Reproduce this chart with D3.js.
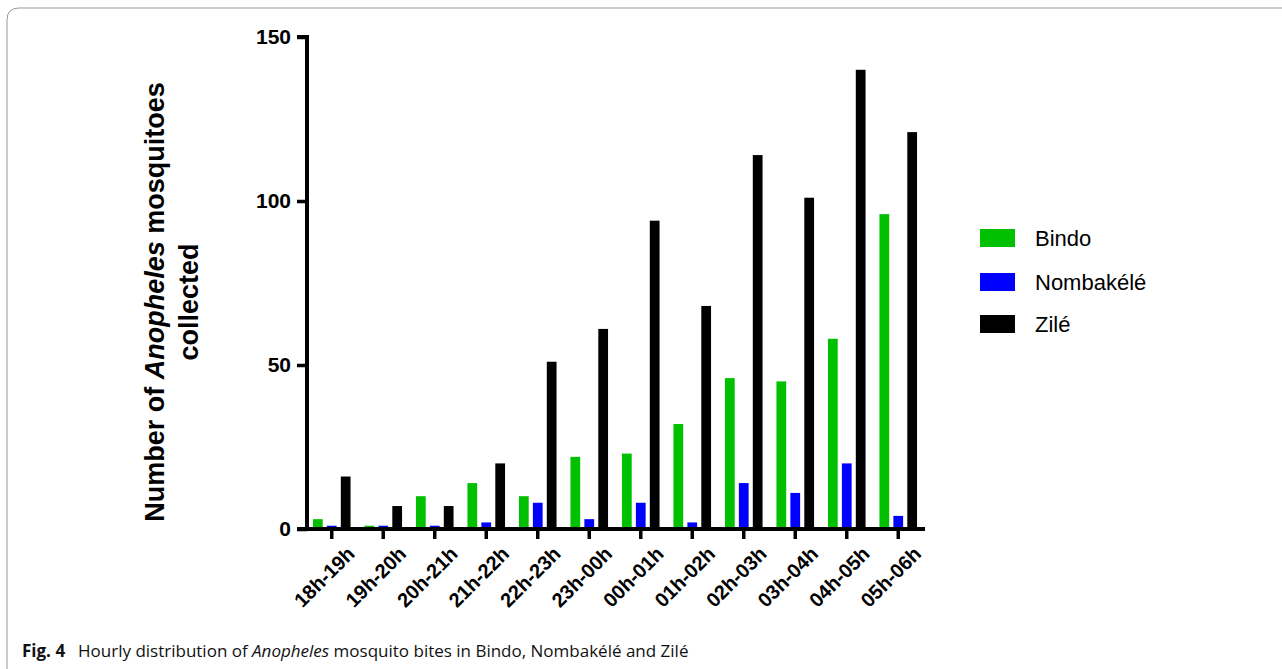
<!DOCTYPE html><html><head><meta charset="utf-8"><script src="https://cdn.jsdelivr.net/npm/d3@7"></script>
<style>body{margin:0;background:#fff}</style></head><body><svg id="c" width="1282" height="669"></svg>
<script>
const categories=["18h-19h","19h-20h","20h-21h","21h-22h","22h-23h","23h-00h","00h-01h","01h-02h","02h-03h","03h-04h","04h-05h","05h-06h"];
const bindo=[3,1,10,14,10,22,23,32,46,45,58,96];
const nombakele=[1,1,1,2,8,3,8,2,14,11,20,4];
const zile=[16,7,7,20,51,61,94,68,114,101,140,121];
const seriesNames=["Bindo","Nombakélé","Zilé"];
const colors=["#00c000","#0000ff","#000000"];
const yTicks=[0,50,100,150];
const svg=d3.select("#c");
const F="Liberation Sans, Arial, sans-serif";
svg.append("path").attr("d","M7,669 L7,20 Q7,8 19,8 L1282,8").attr("fill","none").attr("stroke","#999").attr("stroke-width",1);
const x=d3.scaleBand().domain(categories).range([306,924]).paddingInner(0.27).paddingOuter(0.135);
const y=d3.scaleLinear().domain([0,150]).range([529,37]);
const inner=d3.scaleBand().domain(seriesNames).range([0,x.bandwidth()]).paddingInner(0.3).paddingOuter(0);
const data=[bindo,nombakele,zile];
data.forEach((arr,si)=>{
 svg.append("g").selectAll("rect").data(arr).join("rect")
 .attr("x",(d,i)=>x(categories[i])+inner(seriesNames[si]))
 .attr("width",inner.bandwidth()).attr("y",d=>y(d)).attr("height",d=>y(0)-y(d)).attr("fill",colors[si]);
});
const ya=svg.append("g").attr("transform","translate(307,0)").call(d3.axisLeft(y).tickValues(yTicks).tickSize(10).tickPadding(6));
ya.selectAll("text").attr("font-family",F).attr("font-weight","bold").attr("font-size",21).attr("fill","#000");
ya.selectAll("line").attr("stroke-width",3.5);ya.select(".domain").attr("stroke-width",4).attr("d","M-10,37H0V529H-10");
const xa=svg.append("g").attr("transform","translate(0,529)").call(d3.axisBottom(x).tickSize(10).tickSizeOuter(0));
xa.select(".domain").attr("stroke-width",4).attr("d","M305,0H925");
xa.selectAll("line").attr("stroke-width",3.5);
xa.selectAll("text").attr("font-family",F).attr("font-weight","bold").attr("font-size",20).attr("fill","#000")
 .attr("text-anchor","end").attr("transform","translate(10,12) rotate(-45)").attr("dy","0.35em");
const t=svg.append("text").attr("transform","translate(164,302) rotate(-90)").attr("text-anchor","middle").attr("font-family",F).attr("font-weight","bold").attr("font-size",27);
t.append("tspan").text("Number of ");t.append("tspan").attr("font-style","italic").text("Anopheles");t.append("tspan").text(" mosquitoes");
svg.append("text").attr("transform","translate(198,302) rotate(-90)").attr("text-anchor","middle").attr("font-family",F).attr("font-weight","bold").attr("font-size",27).text("collected");
seriesNames.forEach((n,i)=>{
 const yy=[238,282,324][i];
 svg.append("rect").attr("x",980).attr("y",yy-9).attr("width",35).attr("height",18).attr("fill",colors[i]);
 svg.append("text").attr("x",1035).attr("y",yy+8).attr("font-family",F).attr("font-size",22).text(n);
});
const c=svg.append("text").attr("x",22).attr("y",657).attr("font-family","Open Sans, sans-serif").attr("font-size",17).attr("fill","#111");
c.append("tspan").attr("font-weight","bold").text("Fig. 4");c.append("tspan").text("\u2002 Hourly distribution of ");
c.append("tspan").attr("font-style","italic").text("Anopheles");c.append("tspan").text(" mosquito bites in Bindo, Nombakélé and Zilé");
</script></body></html>
